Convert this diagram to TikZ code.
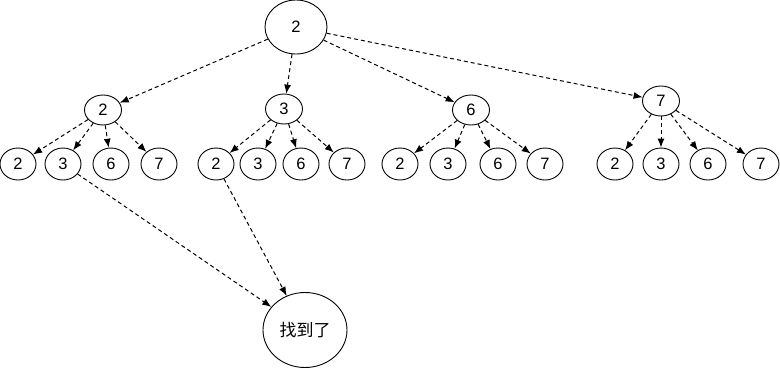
\documentclass[tikz,border=0pt]{standalone}
\usepackage{fontspec}
\setmainfont{Liberation Sans}
\newfontfamily\cjkfont{Noto Sans CJK SC}
\usetikzlibrary{arrows.meta,shapes.geometric}
\tikzset{
  oval/.style={draw=black, ellipse, line width=0.9pt, inner sep=0pt, font=\fontsize{16.5}{18}\selectfont},
  rootoval/.style={oval, minimum width=62pt, minimum height=54pt},
  midoval/.style={oval, minimum width=37pt, minimum height=30pt},
  leafoval/.style={oval, minimum width=36pt, minimum height=32pt},
  goaloval/.style={oval, minimum width=84pt, minimum height=75pt, font=\cjkfont\fontsize{17}{19}\selectfont},
  darrow/.style={-{Latex[length=9pt,width=7pt]}, line width=1pt, dash pattern=on 4pt off 3pt}
}
\begin{document}
\begin{tikzpicture}[x=1pt, y=-1pt]
\useasboundingbox (0,0) rectangle (780,368);
% root
\node[rootoval] (root) at (296,27) {2};
% level 1
\node[midoval] (m2) at (103,110) {2};
\node[midoval] (m3) at (284,109) {3};
\node[midoval] (m6) at (471,110) {6};
\node[midoval] (m7) at (661,101) {7};
% level 2, under 2
\node[leafoval] (m2l2) at (18,164) {2};
\node[leafoval] (m2l3) at (63,164) {3};
\node[leafoval] (m2l6) at (111,164) {6};
\node[leafoval] (m2l7) at (159,164) {7};
% level 2, under 3
\node[leafoval] (m3l2) at (216,164) {2};
\node[leafoval] (m3l3) at (258,164) {3};
\node[leafoval] (m3l6) at (301,164) {6};
\node[leafoval] (m3l7) at (347,164) {7};
% level 2, under 6
\node[leafoval] (m6l2) at (400,164) {2};
\node[leafoval] (m6l3) at (448,164) {3};
\node[leafoval] (m6l6) at (498,164) {6};
\node[leafoval] (m6l7) at (545,164) {7};
% level 2, under 7
\node[leafoval] (m7l2) at (615,164) {2};
\node[leafoval] (m7l3) at (661,164) {3};
\node[leafoval] (m7l6) at (708,164) {6};
\node[leafoval] (m7l7) at (761,164) {7};
% goal
\node[goaloval] (goal) at (305,330) {找到了};
% edges
\draw[darrow] (root) -- (m2);
\draw[darrow] (root) -- (m3);
\draw[darrow] (root) -- (m6);
\draw[darrow] (root) -- (m7);
\draw[darrow] (m2) -- (m2l2);
\draw[darrow] (m2) -- (m2l3);
\draw[darrow] (m2) -- (m2l6);
\draw[darrow] (m2) -- (m2l7);
\draw[darrow] (m3) -- (m3l2);
\draw[darrow] (m3) -- (m3l3);
\draw[darrow] (m3) -- (m3l6);
\draw[darrow] (m3) -- (m3l7);
\draw[darrow] (m6) -- (m6l2);
\draw[darrow] (m6) -- (m6l3);
\draw[darrow] (m6) -- (m6l6);
\draw[darrow] (m6) -- (m6l7);
\draw[darrow] (m7) -- (m7l2);
\draw[darrow] (m7) -- (m7l3);
\draw[darrow] (m7) -- (m7l6);
\draw[darrow] (m7) -- (m7l7);
\draw[darrow] (m2l3) -- (goal);
\draw[darrow] (m3l2) -- (goal);
\end{tikzpicture}
\end{document}
